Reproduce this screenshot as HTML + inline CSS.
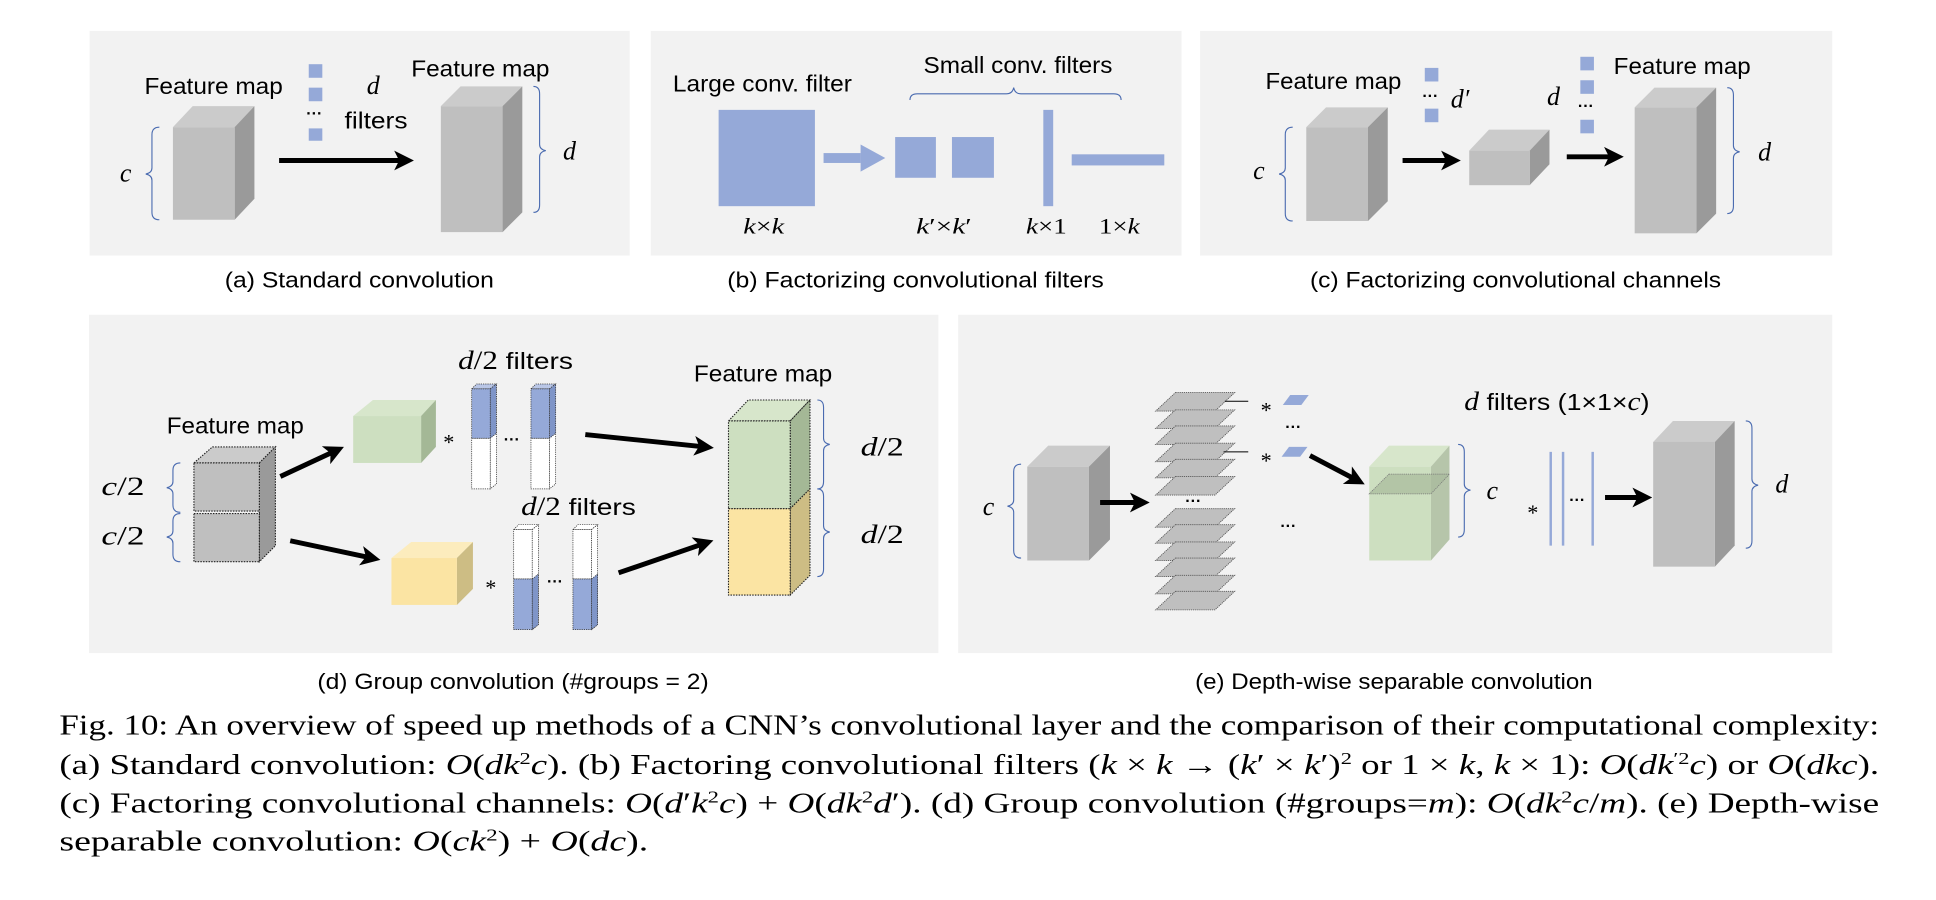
<!DOCTYPE html>
<html><head><meta charset="utf-8"><style>
html,body{margin:0;padding:0;background:#fff;}
svg{display:block;}
.lbl{font-family:"Liberation Sans",sans-serif;font-size:19px;fill:#000;}
.cap{font-family:"Liberation Sans",sans-serif;font-size:18px;fill:#000;}
.m{font-family:"Liberation Serif",serif;font-style:italic;font-size:21px;fill:#000;}
.mr{font-family:"Liberation Serif",serif;font-size:18px;fill:#000;}
.fig{font-family:"Liberation Serif",serif;font-size:23px;fill:#000;}
.it{font-style:italic;}
.br{fill:none;stroke:#4a6bb0;stroke-width:0.9;}
.ar{stroke:#000;stroke-width:4;}
.dots{font-family:"Liberation Sans",sans-serif;font-size:13px;font-weight:bold;fill:#000;}
</style></head><body>
<svg width="1936" height="900" viewBox="0 0 1568 729" xmlns="http://www.w3.org/2000/svg">
<defs>
<marker id="ah" markerWidth="4" markerHeight="4" refX="2.2" refY="2" orient="auto" markerUnits="strokeWidth">
<path d="M0,0 L4,2 L0,4 L1,2 Z" fill="#000"/>
</marker>
</defs>
<rect x="72.5" y="25" width="437.5" height="182" fill="#f2f2f2"/>
<rect x="527" y="25" width="430" height="182" fill="#f2f2f2"/>
<rect x="972" y="25" width="512" height="182" fill="#f2f2f2"/>
<rect x="72" y="255" width="688" height="274" fill="#f2f2f2"/>
<rect x="776" y="255" width="708" height="274" fill="#f2f2f2"/>

<!-- ===== Panel a ===== -->
<text class="lbl" x="117" y="76" textLength="112" lengthAdjust="spacingAndGlyphs">Feature map</text>
<polygon points="140,103 156,86 206,86 190,103" fill="#cbcbcb"/>
<polygon points="190,103 206,86 206,161 190,178" fill="#9a9a9a"/>
<rect x="140" y="103" width="50" height="75" fill="#bfbfbf"/>
<path class="br" d="M129,103 Q123,103 123,109 L123,136 Q123,140 118,141 Q123,142 123,146 L123,172 Q123,178 129,178"/>
<text class="m" x="97" y="147">c</text>
<rect x="250" y="52" width="11" height="11" fill="#95a9d8"/>
<rect x="250" y="71" width="11" height="11" fill="#95a9d8"/>
<text class="dots" x="248" y="96">···</text>
<rect x="250" y="104" width="11" height="10" fill="#95a9d8"/>
<text class="m" x="297" y="76">d</text>
<text class="lbl" x="279" y="104" textLength="51" lengthAdjust="spacingAndGlyphs">filters</text>
<line class="ar" x1="226" y1="130" x2="328" y2="130" marker-end="url(#ah)"/>
<text class="lbl" x="333" y="62" textLength="112" lengthAdjust="spacingAndGlyphs">Feature map</text>
<polygon points="357,86 373,70 423,70 407,86" fill="#cbcbcb"/>
<polygon points="407,86 423,70 423,172 407,188" fill="#9a9a9a"/>
<rect x="357" y="86" width="50" height="102" fill="#bfbfbf"/>
<path class="br" d="M432,70 Q437,70 437,76 L437,117 Q437,121 442,122 Q437,123 437,127 L437,166 Q437,172 432,172"/>
<text class="m" x="456" y="129">d</text>
<text class="cap" x="182" y="233" textLength="218" lengthAdjust="spacingAndGlyphs">(a) Standard convolution</text>

<!-- ===== Panel b ===== -->
<text class="lbl" x="545" y="74" textLength="145" lengthAdjust="spacingAndGlyphs">Large conv. filter</text>
<rect x="582" y="89" width="78" height="78" fill="#95a9d8"/>
<rect x="667" y="124" width="30" height="8" fill="#95a9d8"/>
<polygon points="697,117 717,128 697,139" fill="#95a9d8"/>
<rect x="725" y="111" width="33" height="33" fill="#95a9d8"/>
<rect x="771" y="111" width="34" height="33" fill="#95a9d8"/>
<rect x="845" y="89" width="8" height="78" fill="#95a9d8"/>
<rect x="868" y="125" width="75" height="9" fill="#95a9d8"/>
<path class="br" d="M737,81 Q737,76 743,76 L815,76 Q820,76 821,71 Q822,76 827,76 L902,76 Q908,76 908,81"/>
<text class="lbl" x="748" y="59" textLength="153" lengthAdjust="spacingAndGlyphs">Small conv. filters</text>
<text class="mr" x="602" y="189" font-size="20" textLength="33" lengthAdjust="spacingAndGlyphs"><tspan class="it">k</tspan>×<tspan class="it">k</tspan></text>
<text class="mr" x="742" y="189" font-size="20" textLength="45" lengthAdjust="spacingAndGlyphs"><tspan class="it">k</tspan>′×<tspan class="it">k</tspan>′</text>
<text class="mr" x="831" y="189" font-size="20" textLength="33" lengthAdjust="spacingAndGlyphs"><tspan class="it">k</tspan>×1</text>
<text class="mr" x="890" y="189" font-size="20" textLength="33" lengthAdjust="spacingAndGlyphs">1×<tspan class="it">k</tspan></text>
<text class="cap" x="589" y="233" textLength="305" lengthAdjust="spacingAndGlyphs">(b) Factorizing convolutional filters</text>

<!-- ===== Panel c ===== -->
<text class="lbl" x="1025" y="72" textLength="110" lengthAdjust="spacingAndGlyphs">Feature map</text>
<polygon points="1058,103 1074,87 1124,87 1108,103" fill="#cbcbcb"/>
<polygon points="1108,103 1124,87 1124,163 1108,179" fill="#9a9a9a"/>
<rect x="1058" y="103" width="50" height="76" fill="#bfbfbf"/>
<path class="br" d="M1047,103 Q1041,103 1041,109 L1041,136 Q1041,140 1036,141 Q1041,142 1041,146 L1041,173 Q1041,179 1047,179"/>
<text class="m" x="1015" y="145">c</text>
<rect x="1154" y="55" width="11" height="11" fill="#95a9d8"/>
<text class="dots" x="1152" y="82">···</text>
<rect x="1154" y="88" width="11" height="11" fill="#95a9d8"/>
<text class="m" x="1175" y="87">d′</text>
<line class="ar" x1="1136" y1="130" x2="1176" y2="130" marker-end="url(#ah)"/>
<polygon points="1190,122 1206,105 1255,105 1239,122" fill="#cbcbcb"/>
<polygon points="1239,122 1255,105 1255,133 1239,150" fill="#9a9a9a"/>
<rect x="1190" y="122" width="49" height="28" fill="#bfbfbf"/>
<text class="m" x="1253" y="85">d</text>
<rect x="1280" y="46" width="11" height="11" fill="#95a9d8"/>
<rect x="1280" y="65" width="11" height="11" fill="#95a9d8"/>
<text class="dots" x="1278" y="90">···</text>
<rect x="1280" y="97" width="11" height="11" fill="#95a9d8"/>
<line class="ar" x1="1269" y1="127" x2="1308" y2="127" marker-end="url(#ah)"/>
<text class="lbl" x="1307" y="60" textLength="111" lengthAdjust="spacingAndGlyphs">Feature map</text>
<polygon points="1324,87 1340,71 1390,71 1374,87" fill="#cbcbcb"/>
<polygon points="1374,87 1390,71 1390,173 1374,189" fill="#9a9a9a"/>
<rect x="1324" y="87" width="50" height="102" fill="#bfbfbf"/>
<path class="br" d="M1399,71 Q1404,71 1404,77 L1404,118 Q1404,122 1409,123 Q1404,124 1404,128 L1404,167 Q1404,173 1399,173"/>
<text class="m" x="1424" y="130">d</text>
<text class="cap" x="1061" y="233" textLength="333" lengthAdjust="spacingAndGlyphs">(c) Factorizing convolutional channels</text>

<!-- ===== Panel d ===== -->
<text class="lbl" x="135" y="351" textLength="111" lengthAdjust="spacingAndGlyphs">Feature map</text>
<g stroke="#222" stroke-width="0.9" stroke-dasharray="1.2,1">
<polygon points="157,375 172,362 223,362 210,375" fill="#cbcbcb"/>
<polygon points="210,375 223,362 223,442 210,455" fill="#9a9a9a"/>
<rect x="157" y="375" width="53" height="39" fill="#bfbfbf"/>
<rect x="157" y="416" width="53" height="39" fill="#bfbfbf"/>
</g>
<path class="br" d="M146,375 Q140,375 140,381 L140,390 Q140,394 135,395 Q140,396 140,400 L140,409 Q140,415 146,415"/>
<path class="br" d="M146,416 Q140,416 140,422 L140,430 Q140,434 135,435 Q140,436 140,440 L140,449 Q140,455 146,455"/>
<text class="m" x="82" y="401" textLength="35" lengthAdjust="spacingAndGlyphs">c<tspan font-style="normal">/2</tspan></text>
<text class="m" x="82" y="441" textLength="35" lengthAdjust="spacingAndGlyphs">c<tspan font-style="normal">/2</tspan></text>
<line class="ar" x1="227" y1="386" x2="272" y2="365" marker-end="url(#ah)"/>
<polygon points="286,337 302,324 353,324 341,337" fill="#d7e6cb"/>
<polygon points="341,337 353,324 353,362 341,375" fill="#a4b896"/>
<rect x="286" y="337" width="55" height="38" fill="#cddfc0"/>
<text class="mr" x="359" y="364">*</text>
<g stroke="#333" stroke-width="0.6" stroke-dasharray="1,0.8">
<polygon points="382,315 386,311 402,311 397,315" fill="#b9c6e6"/>
<polygon points="397,315 402,311 402,392 397,396" fill="#fff"/>
<polygon points="397,315 402,311 402,351 397,355" fill="#7f95c8"/>
<rect x="382" y="355" width="15" height="41" fill="#fff"/>
<rect x="382" y="315" width="15" height="40" fill="#95a9d8"/>
<polygon points="430,315 434,311 450,311 445,315" fill="#b9c6e6"/>
<polygon points="445,315 450,311 450,392 445,396" fill="#fff"/>
<polygon points="445,315 450,311 450,351 445,355" fill="#7f95c8"/>
<rect x="430" y="355" width="15" height="41" fill="#fff"/>
<rect x="430" y="315" width="15" height="40" fill="#95a9d8"/>
</g>
<text class="dots" x="408" y="360">···</text>
<text class="m" x="371" y="299" textLength="93" lengthAdjust="spacingAndGlyphs">d<tspan font-style="normal">/2</tspan> <tspan class="lbl" font-style="normal">filters</tspan></text>
<line class="ar" x1="474" y1="352" x2="571" y2="362" marker-end="url(#ah)"/>
<text class="lbl" x="562" y="309" textLength="112" lengthAdjust="spacingAndGlyphs">Feature map</text>
<g stroke="#222" stroke-width="0.9" stroke-dasharray="1.2,1">
<polygon points="590,341 606,324 656,324 640,341" fill="#d7e6cb"/>
<polygon points="640,341 656,324 656,396 640,412" fill="#a4b896"/>
<polygon points="640,412 656,396 656,466 640,482" fill="#cdbd84"/>
<rect x="590" y="341" width="50" height="71" fill="#cddfc0"/>
<rect x="590" y="412" width="50" height="70" fill="#fbe4a3"/>
</g>
<path class="br" d="M662,324 Q667,324 667,330 L667,355 Q667,359 672,360 Q667,361 667,365 L667,390 Q667,396 662,396"/>
<path class="br" d="M662,396 Q667,396 667,402 L667,426 Q667,430 672,431 Q667,432 667,436 L667,461 Q667,467 662,467"/>
<text class="m" x="697" y="369" textLength="35" lengthAdjust="spacingAndGlyphs">d<tspan font-style="normal">/2</tspan></text>
<text class="m" x="697" y="440" textLength="35" lengthAdjust="spacingAndGlyphs">d<tspan font-style="normal">/2</tspan></text>
<line class="ar" x1="235" y1="438" x2="301" y2="452" marker-end="url(#ah)"/>
<polygon points="317,452 333,439 383,439 370,452" fill="#fcecbd"/>
<polygon points="370,452 383,439 383,477 370,490" fill="#cdbd84"/>
<rect x="317" y="452" width="53" height="38" fill="#fbe4a3"/>
<text class="mr" x="393" y="482">*</text>
<g stroke="#333" stroke-width="0.6" stroke-dasharray="1,0.8">
<polygon points="416,429 420,425 436,425 431,429" fill="#fff"/>
<polygon points="431,429 436,425 436,506 431,510" fill="#fff"/>
<polygon points="431,469 436,465 436,506 431,510" fill="#7f95c8"/>
<rect x="416" y="429" width="15" height="40" fill="#fff"/>
<rect x="416" y="469" width="15" height="41" fill="#95a9d8"/>
<polygon points="464,429 468,425 484,425 479,429" fill="#fff"/>
<polygon points="479,429 484,425 484,506 479,510" fill="#fff"/>
<polygon points="479,469 484,465 484,506 479,510" fill="#7f95c8"/>
<rect x="464" y="429" width="15" height="40" fill="#fff"/>
<rect x="464" y="469" width="15" height="41" fill="#95a9d8"/>
</g>
<text class="dots" x="443" y="475">···</text>
<text class="m" x="422" y="417" textLength="93" lengthAdjust="spacingAndGlyphs">d<tspan font-style="normal">/2</tspan> <tspan class="lbl" font-style="normal">filters</tspan></text>
<line class="ar" x1="501" y1="464" x2="571" y2="440" marker-end="url(#ah)"/>
<text class="cap" x="257" y="558" textLength="317" lengthAdjust="spacingAndGlyphs">(d) Group convolution (#groups = 2)</text>

<!-- ===== Panel e ===== -->
<polygon points="832,378 849,361 899,361 882,378" fill="#cbcbcb"/>
<polygon points="882,378 899,361 899,437 882,454" fill="#9a9a9a"/>
<rect x="832" y="378" width="50" height="76" fill="#bfbfbf"/>
<path class="br" d="M827,376 Q821,376 821,382 L821,405 Q821,409 816,410 Q821,411 821,415 L821,446 Q821,452 827,452"/>
<text class="m" x="796" y="417">c</text>
<line class="ar" x1="891" y1="407" x2="924" y2="407" marker-end="url(#ah)"/>
<g fill="#bfbfbf" stroke="#555" stroke-width="0.7" stroke-dasharray="1,0.7">
<polygon points="952,318 1000,318 984,333 936,333"/>
<polygon points="952,332 1000,332 984,347 936,347"/>
<polygon points="952,345 1000,345 984,360 936,360"/>
<polygon points="952,359 1000,359 984,374 936,374"/>
<polygon points="952,372 1000,372 984,387 936,387"/>
<polygon points="952,386 1000,386 984,401 936,401"/>
<polygon points="952,412 1000,412 984,427 936,427"/>
<polygon points="952,425 1000,425 984,440 936,440"/>
<polygon points="952,439 1000,439 984,454 936,454"/>
<polygon points="952,452 1000,452 984,467 936,467"/>
<polygon points="952,466 1000,466 984,481 936,481"/>
<polygon points="952,479 1000,479 984,494 936,494"/>
</g>
<text class="dots" x="960" y="410">···</text>
<line x1="992" y1="325" x2="1011" y2="325" stroke="#000" stroke-width="0.8"/>
<line x1="991" y1="366" x2="1011" y2="366" stroke="#000" stroke-width="0.8"/>
<text class="mr" x="1021" y="338">*</text>
<text class="mr" x="1021" y="379">*</text>
<polygon points="1045,320 1060,320 1054,328 1039,328" fill="#95a9d8"/>
<polygon points="1044,362 1059,362 1053,370 1038,370" fill="#95a9d8"/>
<text class="dots" x="1041" y="350">···</text>
<text class="dots" x="1037" y="430">···</text>
<line class="ar" x1="1061" y1="369" x2="1099" y2="389" marker-end="url(#ah)"/>
<polygon points="1109,378 1125,361 1174,361 1159,378" fill="#d7e6cb"/>
<polygon points="1159,378 1174,361 1174,437 1159,454" fill="#b6c5aa"/>
<rect x="1109" y="378" width="50" height="76" fill="#cddfc0"/>
<polygon points="1125,384 1174,384 1159,400 1109,400" fill="#a8b99b" fill-opacity="0.7" stroke="#777" stroke-width="0.6" stroke-dasharray="1,0.7"/>
<path class="br" d="M1181,360 Q1186,360 1186,366 L1186,392 Q1186,396 1191,397 Q1186,398 1186,402 L1186,429 Q1186,435 1181,435"/>
<text class="m" x="1204" y="404">c</text>
<text class="m" x="1186" y="332" textLength="150" lengthAdjust="spacingAndGlyphs">d <tspan class="lbl" font-style="normal">filters (1×1×</tspan>c<tspan class="lbl" font-style="normal">)</tspan></text>
<text class="mr" x="1237" y="421">*</text>
<line x1="1256" y1="366" x2="1256" y2="442" stroke="#95a9d8" stroke-width="2"/>
<line x1="1266" y1="366" x2="1266" y2="442" stroke="#95a9d8" stroke-width="2"/>
<line x1="1290" y1="366" x2="1290" y2="442" stroke="#95a9d8" stroke-width="2"/>
<text class="dots" x="1271" y="409">···</text>
<line class="ar" x1="1300" y1="403" x2="1331" y2="403" marker-end="url(#ah)"/>
<polygon points="1339,358 1355,341 1405,341 1389,358" fill="#cbcbcb"/>
<polygon points="1389,358 1405,341 1405,442 1389,459" fill="#9a9a9a"/>
<rect x="1339" y="358" width="50" height="101" fill="#bfbfbf"/>
<path class="br" d="M1414,341 Q1419,341 1419,347 L1419,388 Q1419,392 1424,393 Q1419,394 1419,398 L1419,438 Q1419,444 1414,444"/>
<text class="m" x="1438" y="399">d</text>
<text class="cap" x="968" y="558" textLength="322" lengthAdjust="spacingAndGlyphs">(e) Depth-wise separable convolution</text>

<!-- ===== Figure caption ===== -->
<text class="fig" x="48" y="595" textLength="1474" lengthAdjust="spacingAndGlyphs">Fig. 10: An overview of speed up methods of a CNN’s convolutional layer and the comparison of their computational complexity:</text>
<text class="fig" x="48" y="627" textLength="1474" lengthAdjust="spacingAndGlyphs">(a) Standard convolution: <tspan class="it">O</tspan>(<tspan class="it">dk</tspan><tspan font-size="14" dy="-8">2</tspan><tspan class="it" dy="8">c</tspan>). (b) Factoring convolutional filters (<tspan class="it">k</tspan> × <tspan class="it">k</tspan> → (<tspan class="it">k</tspan>′ × <tspan class="it">k</tspan>′)<tspan font-size="14" dy="-8">2</tspan><tspan dy="8"> or 1 × </tspan><tspan class="it">k</tspan>, <tspan class="it">k</tspan> × 1): <tspan class="it">O</tspan>(<tspan class="it">dk</tspan><tspan font-size="14" dy="-8">′2</tspan><tspan class="it" dy="8">c</tspan>) or <tspan class="it">O</tspan>(<tspan class="it">dkc</tspan>).</text>
<text class="fig" x="48" y="658" textLength="1474" lengthAdjust="spacingAndGlyphs">(c) Factoring convolutional channels: <tspan class="it">O</tspan>(<tspan class="it">d</tspan>′<tspan class="it">k</tspan><tspan font-size="14" dy="-8">2</tspan><tspan class="it" dy="8">c</tspan>) + <tspan class="it">O</tspan>(<tspan class="it">dk</tspan><tspan font-size="14" dy="-8">2</tspan><tspan class="it" dy="8">d</tspan>′). (d) Group convolution (#groups=<tspan class="it">m</tspan>): <tspan class="it">O</tspan>(<tspan class="it">dk</tspan><tspan font-size="14" dy="-8">2</tspan><tspan class="it" dy="8">c</tspan>/<tspan class="it">m</tspan>). (e) Depth-wise</text>
<text class="fig" x="48" y="689" textLength="477" lengthAdjust="spacingAndGlyphs">separable convolution: <tspan class="it">O</tspan>(<tspan class="it">ck</tspan><tspan font-size="14" dy="-8">2</tspan><tspan dy="8">) + </tspan><tspan class="it">O</tspan>(<tspan class="it">dc</tspan>).</text>
</svg>
</body></html>
